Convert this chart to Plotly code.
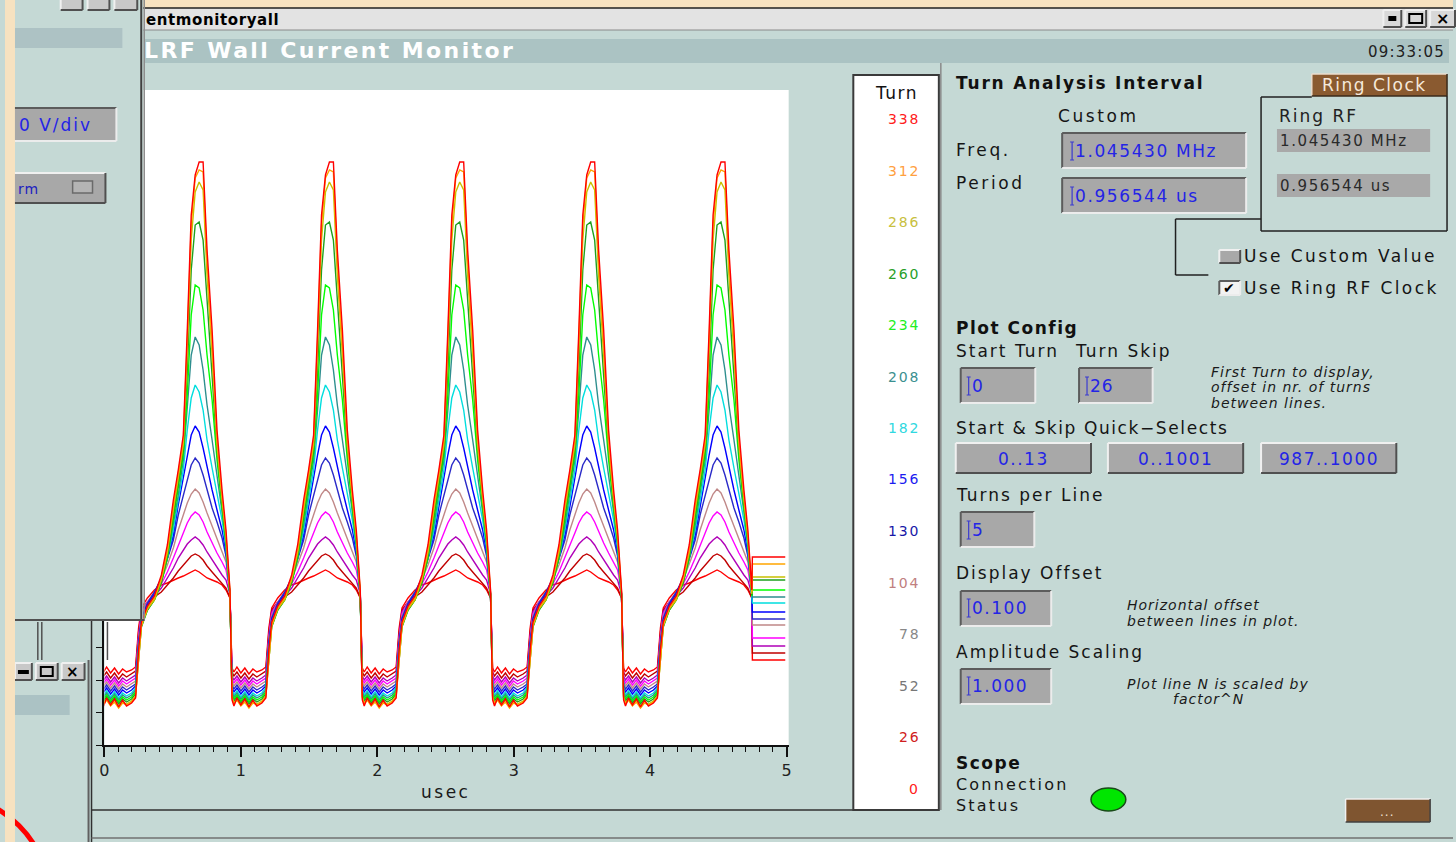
import plotly.graph_objects as go

W, H = 1456, 842
FONT = "DejaVu Sans"
PANEL = "#c5d9d5"

# ---------------- data ----------------
turns = [0, 26, 52, 78, 104, 130, 156, 182, 208, 234, 260, 286, 312, 338]
line_colors = ["#ff0000", "#c00000", "#b000b8", "#ff00ff", "#c08888", "#2a2ac8", "#0000ff",
               "#00dede", "#2e8e8e", "#00ff00", "#1ea01e", "#c8c000", "#ffa500", "#ff0000"]
label_colors = ["#ff2020", "#d02020", "#777777", "#888888", "#c08080", "#1818a8", "#1c1cf0",
                "#30d8e0", "#3a9090", "#22ee22", "#28a028", "#c8c040", "#ffa040", "#ff2020"]

# time offsets (usec) of the profile samples, relative to each bunch centre
knot_offsets_us = [-0.466, -0.437, -0.415, -0.394, -0.350, -0.299, -0.248, -0.204, -0.160, -0.124,
                   -0.087, -0.058, -0.029, 0.000, 0.029, 0.058, 0.087, 0.124, 0.160, 0.197,
                   0.226, 0.255, 0.270, 0.284, 0.306, 0.335, 0.364, 0.394, 0.423, 0.452]
# bunch centres (usec); first one is the bunch just before the window
peak_times_us = [-0.290, 0.665, 1.620, 2.575, 3.535, 4.490]
record_end_us = 4.745
stub_end_us = 4.99
# level where each line ends (right-hand stubs), per turn
end_levels = [85, 92, 99, 107, 120, 126, 133, 142, 148, 155, 165, 168, 181, 188]

# signal level profiles (arbitrary units) for each displayed turn
level_t000 = [75, 78, 117, 137, 147, 155, 160, 162, 165, 167, 169, 171, 173, 175, 173, 170, 167, 165, 163, 160, 155, 147, 77, 73, 78, 72, 77, 71, 76, 73]
level_t026 = [71, 74, 113, 135, 143, 148, 153, 160, 167, 174, 180, 185, 189, 191, 189, 185, 179, 173, 167, 162, 157, 147, 73, 69, 73, 67, 72, 66, 71, 68]
level_t052 = [67, 70, 109, 133, 143, 149, 157, 167, 177, 187, 195, 201, 205, 208, 205, 200, 193, 185, 177, 170, 165, 151, 69, 65, 69, 63, 68, 62, 67, 64]
level_t078 = [64, 67, 107, 131, 143, 151, 161, 173, 187, 200, 212, 222, 229, 233, 230, 223, 213, 202, 192, 183, 175, 153, 66, 62, 66, 60, 65, 59, 64, 61]
level_t104 = [61, 64, 105, 129, 143, 153, 165, 180, 197, 215, 230, 242, 251, 256, 252, 243, 232, 219, 207, 195, 183, 151, 63, 59, 63, 57, 62, 56, 61, 58]
level_t130 = [58, 61, 103, 127, 142, 153, 167, 185, 205, 230, 250, 267, 280, 287, 282, 270, 255, 237, 223, 207, 189, 151, 60, 56, 60, 54, 59, 53, 58, 55]
level_t156 = [55, 59, 100, 125, 140, 151, 167, 187, 210, 240, 267, 290, 310, 319, 313, 297, 277, 255, 235, 215, 193, 150, 57, 53, 57, 51, 56, 50, 55, 52]
level_t182 = [52, 57, 97, 123, 138, 149, 165, 187, 215, 245, 275, 315, 347, 360, 353, 335, 305, 277, 250, 225, 197, 149, 55, 50, 54, 48, 53, 47, 52, 49]
level_t208 = [50, 55, 95, 121, 136, 147, 163, 187, 220, 250, 285, 335, 390, 408, 400, 375, 340, 305, 270, 233, 200, 149, 53, 48, 52, 46, 51, 45, 50, 47]
level_t234 = [48, 53, 93, 119, 135, 145, 162, 187, 225, 255, 290, 350, 430, 460, 457, 435, 390, 345, 285, 237, 202, 149, 51, 46, 50, 44, 49, 43, 48, 45]
level_t260 = [46, 51, 90, 118, 135, 145, 163, 189, 230, 260, 295, 375, 475, 520, 523, 505, 445, 375, 295, 242, 205, 150, 49, 44, 48, 42, 47, 41, 46, 43]
level_t286 = [44, 49, 90, 119, 136, 145, 165, 192, 235, 265, 300, 395, 505, 553, 563, 555, 470, 390, 300, 245, 207, 151, 48, 42, 46, 40, 45, 39, 43, 41]
level_t312 = [43, 48, 90, 120, 137, 147, 167, 195, 240, 270, 305, 405, 520, 567, 575, 573, 483, 400, 305, 248, 210, 153, 47, 41, 45, 39, 43, 37, 42, 40]
level_t338 = [42, 47, 95, 123, 139, 149, 170, 200, 245, 275, 310, 415, 530, 570, 583, 583, 495, 415, 315, 255, 215, 155, 45, 39, 47, 40, 46, 38, 45, 39]

profiles = [level_t000, level_t026, level_t052, level_t078, level_t104, level_t130, level_t156,
            level_t182, level_t208, level_t234, level_t260, level_t286, level_t312, level_t338]

x_ticks = [0, 1, 2, 3, 4, 5]

# ---------------- figure ----------------
fig = go.Figure()
for turn, prof, col, stub in zip(turns, profiles, line_colors, end_levels):
    xs, ys = [], []
    for tc in peak_times_us:
        for off, lv in zip(knot_offsets_us, prof):
            t = tc + off
            if -0.01 <= t <= record_end_us + 1e-9:
                xs.append(t)
                ys.append(lv)
    xs += [record_end_us + 0.004, stub_end_us]
    ys += [stub, stub]
    fig.add_trace(go.Scatter(x=xs, y=ys, mode="lines", line=dict(color=col, width=1.4, shape="linear"),
                             name=f"Turn {turn}", showlegend=False, hoverinfo="skip"))

shapes, anns = [], []


def R(x0, y0, x1, y1, fill=None, line=None, lw=1, layer="below", kind="rect"):
    shapes.append(dict(type=kind, xref="paper", yref="paper", x0=x0 / W, x1=x1 / W,
                       y0=1 - y1 / H, y1=1 - y0 / H,
                       fillcolor=fill or "rgba(0,0,0,0)",
                       line=dict(color=line or "rgba(0,0,0,0)", width=lw if line else 0),
                       layer=layer))


def L(x0, y0, x1, y1, color, lw=1, layer="below"):
    shapes.append(dict(type="line", xref="paper", yref="paper", x0=x0 / W, y0=1 - y0 / H,
                       x1=x1 / W, y1=1 - y1 / H, line=dict(color=color, width=lw), layer=layer))


def sunken(x0, y0, x1, y1, fill="#a8a8a8", layer="below"):
    R(x0, y0, x1, y1, fill, layer=layer)
    L(x0, y0, x1, y0, "#5c5c5c", 2, layer)
    L(x0, y0, x0, y1, "#5c5c5c", 2, layer)
    L(x0, y1, x1, y1, "#ececec", 2, layer)
    L(x1, y0, x1, y1, "#ececec", 2, layer)


def raised(x0, y0, x1, y1, fill="#a8a8a8", layer="below"):
    R(x0, y0, x1, y1, fill, layer=layer)
    L(x0, y0, x1, y0, "#f0f0f0", 2, layer)
    L(x0, y0, x0, y1, "#f0f0f0", 2, layer)
    L(x0, y1, x1, y1, "#505050", 2, layer)
    L(x1, y0, x1, y1, "#505050", 2, layer)


def T(x, y, s, size=17, color="#151515", bold=False, italic=False, anchor="left", ls=2.0):
    txt = f'<span style="letter-spacing:{ls}px">{s}</span>' if ls else s
    anns.append(dict(x=x / W, y=1 - y / H, xref="paper", yref="paper", text=txt, showarrow=False,
                     xanchor=anchor, yanchor="middle", borderpad=0, align="left",
                     font=dict(family=FONT, size=size, color=color,
                               weight="bold" if bold else "normal",
                               style="italic" if italic else "normal")))


def cursor(x, yc):
    L(x, yc - 9, x, yc + 9, "#3a3ad0", 1.2)
    L(x - 2, yc - 9, x + 2, yc - 9, "#3a3ad0", 1)
    L(x - 2, yc + 9, x + 2, yc + 9, "#3a3ad0", 1)


BLUE = "#2424e6"

# background strips / title bar
R(0, 0, 10, 842, "#f7e2c0")
R(0, 0, 1456, 8, "#f7e2c0")
R(138, 8, 1456, 30, "#e3e3e3")
L(138, 8, 1456, 8, "#202020", 1.5)
L(138, 30, 1456, 30, "#8a8a8a", 1)
T(141, 20, "entmonitoryall", 15, "#000000", bold=True, ls=0.6)
raised(1386, 10, 1404, 27, "#d8d8d8")
R(1391, 16, 1399, 21, "#000000")
raised(1408, 10, 1429, 27, "#d8d8d8")
R(1412, 14, 1425, 23, None, "#000000", 2)
raised(1433, 10, 1458, 27, "#d8d8d8")
T(1445, 19, "×", 16, "#000000", bold=True, anchor="center", ls=0)

# heading bar
R(140, 39, 1452, 63, "#abc3c3")
T(514, 51, "LRF Wall Current Monitor", 22, "#ffffff", bold=True, anchor="right", ls=2.4)
T(1449, 52, "09:33:05", 15, "#202020", anchor="right", ls=1.2)

# plot panel borders
L(87, 620, 87, 842, "#303030", 1.5)
L(87, 810, 853, 810, "#303030", 1.5)
L(87, 838, 1456, 838, "#707070", 1.5)

# legend panel
R(853, 75, 939, 810, "#ffffff", "#3a3a3a", 2)
T(896, 93, "Turn", 17, "#111111", anchor="center", ls=1.5)
for i, (turn, lc) in enumerate(zip(turns[::-1], label_colors[::-1])):
    T(921, 119 + i * 51.5, str(turn), 14, lc, anchor="right", ls=1.8)

# right control panel
L(941, 63, 941, 810, "#8a8a8a", 1.5)
T(955, 83, "Turn Analysis Interval", 17, "#111111", bold=True, ls=1.8)
R(1314, 74, 1450, 96, "#8a5a30")
L(1314, 74, 1450, 74, "#eadccc", 1.5)
L(1314, 74, 1314, 96, "#eadccc", 1.5)
L(1314, 96, 1450, 96, "#3a2a1a", 1.5)
L(1450, 74, 1450, 96, "#3a2a1a", 1.5)
T(1323, 85, "Ring Clock", 17, "#f5e8da", ls=1.5)
L(1263, 97, 1314, 97, "#202020", 1.5)
L(1450, 96, 1450, 231, "#202020", 1.5)
L(1263, 231, 1450, 231, "#202020", 1.5)
L(1263, 97, 1263, 231, "#202020", 1.5)
L(1177, 219, 1263, 219, "#202020", 1.5)
L(1177, 219, 1177, 275, "#202020", 1.5)
L(1177, 275, 1210, 275, "#202020", 1.5)
T(1280, 116, "Ring RF", 17, "#222222", ls=2)
R(1279, 129, 1433, 152, "#a9a9a9")
T(1281, 141, "1.045430 MHz", 15, "#2a2a2a", ls=1.6)
R(1279, 174, 1433, 197, "#a9a9a9")
T(1281, 186, "0.956544 us", 15, "#2a2a2a", ls=1.6)
T(1058, 116, "Custom", 17, ls=2.6)
T(955, 150, "Freq.", 17, ls=2.6)
T(955, 183, "Period", 17, ls=2.6)
sunken(1063, 133, 1248, 168)
cursor(1073, 151)
T(1075, 151, "1.045430 MHz", 17, BLUE, ls=1.6)
sunken(1063, 178, 1248, 213)
cursor(1073, 196)
T(1075, 196, "0.956544 us", 17, BLUE, ls=1.6)
raised(1221, 250, 1242, 263, "#a8a8a8")
T(1245, 256, "Use Custom Value", 17, ls=2.4)
sunken(1221, 281, 1242, 295, "#f2f2f2")
T(1231, 288, "✔", 14, "#000000", anchor="center", ls=0)
T(1245, 288, "Use Ring RF Clock", 17, ls=2.4)

T(955, 328, "Plot Config", 17, "#111111", bold=True, ls=1.5)
T(955, 351, "Start Turn", 17, ls=2.0)
T(1075, 351, "Turn Skip", 17, ls=2.0)
sunken(961, 368, 1036, 403)
cursor(969, 386)
T(971, 386, "0", 17, BLUE, ls=1)
sunken(1080, 368, 1154, 403)
cursor(1088, 386)
T(1090, 386, "26", 17, BLUE, ls=1)
T(1212, 372, "First Turn to display,", 14, "#1a1a1a", italic=True, ls=1.0)
T(1212, 387, "offset in nr. of turns", 14, "#1a1a1a", italic=True, ls=1.0)
T(1212, 403, "between lines.", 14, "#1a1a1a", italic=True, ls=1.0)
T(955, 428, "Start &amp; Skip Quick−Selects", 17, ls=1.6)
raised(956, 443, 1092, 473)
T(1024, 459, "0..13", 17, BLUE, anchor="center", ls=1.5)
raised(1109, 443, 1245, 473)
T(1177, 459, "0..1001", 17, BLUE, anchor="center", ls=1.5)
raised(1263, 443, 1399, 473)
T(1331, 459, "987..1000", 17, BLUE, anchor="center", ls=1.5)
T(955, 495, "Turns per Line", 17, ls=2.0)
sunken(961, 512, 1035, 547)
cursor(969, 530)
T(971, 530, "5", 17, BLUE, ls=1)
T(955, 573, "Display Offset", 17, ls=2.0)
sunken(961, 591, 1052, 626)
cursor(969, 608)
T(971, 608, "0.100", 17, BLUE, ls=1.5)
T(1127, 605, "Horizontal offset", 14, "#1a1a1a", italic=True, ls=1.0)
T(1127, 621, "between lines in plot.", 14, "#1a1a1a", italic=True, ls=1.0)
T(955, 652, "Amplitude Scaling", 17, ls=2.0)
sunken(961, 669, 1052, 704)
cursor(969, 686)
T(971, 686, "1.000", 17, BLUE, ls=1.5)
T(1127, 684, "Plot line N is scaled by", 14, "#1a1a1a", italic=True, ls=1.0)
T(1173, 699, "factor^N", 14, "#1a1a1a", italic=True, ls=1.0)
T(955, 763, "Scope", 17, "#111111", bold=True, ls=1.5)
T(955, 795, "Connection<br>Status", 16, ls=2.2)
R(1092, 788, 1127, 811, "#00e600", "#1a4a1a", 1.5, kind="circle")
R(1348, 799, 1433, 822, "#7f5530")
L(1348, 799, 1433, 799, "#f0f0f0", 1.5)
L(1348, 799, 1348, 822, "#f0f0f0", 1.5)
L(1348, 822, 1433, 822, "#404040", 1.5)
L(1433, 799, 1433, 822, "#404040", 1.5)
T(1390, 812, "...", 12, "#f0e0d0", anchor="center", ls=1)

# overlapping window on the left (drawn above the plot)
A = "above"
R(10, 0, 139, 621, PANEL, layer=A)
L(137, 0, 137, 621, "#404040", 2, A)
L(140, 0, 140, 621, "#8c8c8c", 1.5, A)
L(10, 620, 140, 620, "#505050", 2, A)
raised(56, -3, 78, 10, "#c8c8c8", A)
raised(83, -3, 105, 10, "#c8c8c8", A)
raised(110, -3, 133, 10, "#c8c8c8", A)
R(10, 28, 118, 48, "#adc2c4", layer=A)
sunken(8, 108, 112, 141, layer=A)
T(13, 125, "0 V/div", 17, BLUE, ls=2.0)
raised(8, 173, 101, 203, layer=A)
T(12, 189, "rm", 14, "#2020c0", ls=1.0)
R(68, 181, 88, 193, "#b4b4b4", "#6a6a6a", 1.5, layer=A)
# lower-left window
L(33, 622, 33, 660, "#505050", 1.5, A)
L(37, 622, 37, 660, "#505050", 1.5, A)
L(103, 622, 103, 660, "#505050", 1.5, A)
R(10, 660, 84, 842, PANEL, layer=A)
L(84, 660, 84, 842, "#606060", 2, A)
raised(10, 663, 27, 680, "#c8c8c8", A)
R(13, 670, 24, 674, "#000000", layer=A)
raised(31, 663, 53, 680, "#c8c8c8", A)
R(36, 667, 48, 676, None, "#000000", 2, layer=A)
raised(57, 663, 80, 680, "#c8c8c8", A)
T(68, 672, "×", 15, "#000000", bold=True, anchor="center", ls=0)
R(10, 695, 65, 715, "#abc2c4", layer=A)
R(-165, 795, 45, 1005, None, "#ff0000", 5, layer=A, kind="circle")
R(0, 0, 10, 842, "#f7e2c0", layer=A)

# axis title
T(443, 792, "usec", 17, "#1a1a1a", anchor="center", ls=2.5)

fig.update_layout(
    width=W, height=H, autosize=False,
    margin=dict(l=0, r=0, t=0, b=0),
    paper_bgcolor=PANEL, plot_bgcolor="#ffffff",
    shapes=shapes, annotations=anns,
    xaxis=dict(domain=[100 / W, 788 / W], range=[0, 5.015], tickvals=x_ticks,
               ticks="outside", ticklen=10, tickwidth=1.5, tickcolor="#111111",
               minor=dict(dtick=0.1, ticks="outside", ticklen=5, tickcolor="#111111", tickwidth=1.2),
               showline=True, linecolor="#111111", linewidth=1.5, showgrid=False, zeroline=False,
               tickfont=dict(family=FONT, size=16, color="#222222")),
    yaxis=dict(domain=[1 - 745 / H, 1 - 90 / H], range=[0, 655], tick0=0, dtick=32.5,
               ticks="outside", ticklen=7, tickcolor="#111111", tickwidth=1.2,
               showticklabels=False, showline=True, linecolor="#111111", linewidth=1.5,
               showgrid=False, zeroline=False),
    showlegend=False,
)

fig.write_html("out.html")
